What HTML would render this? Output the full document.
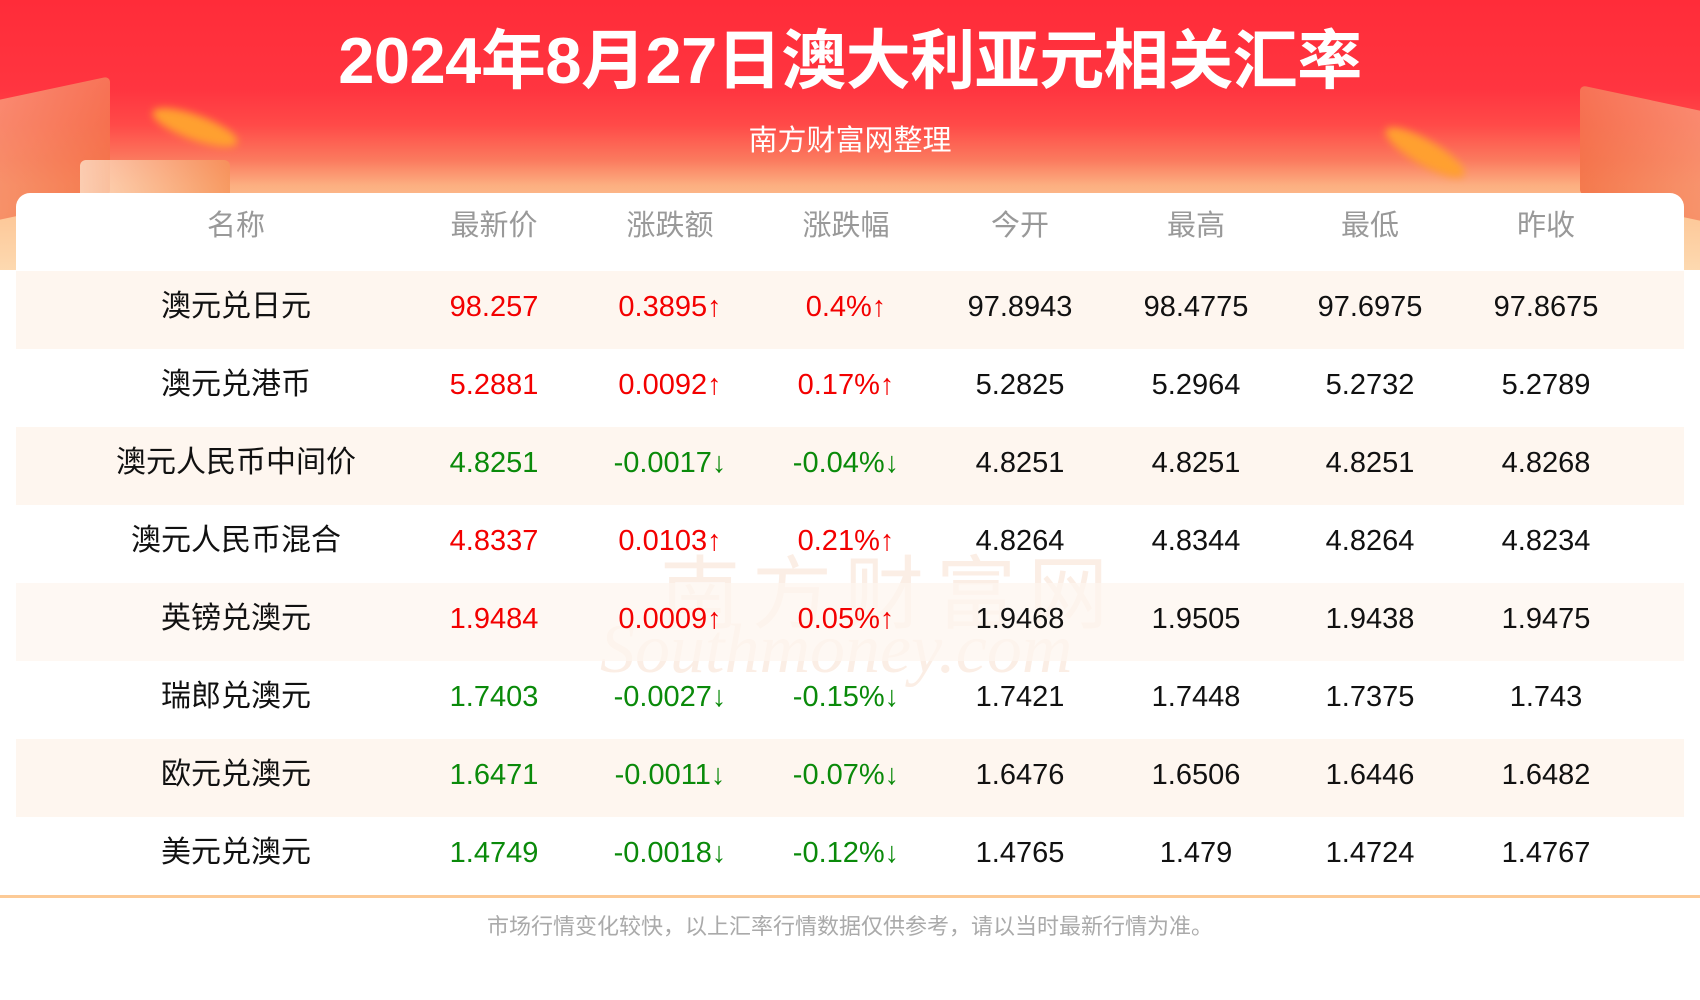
<!DOCTYPE html>
<html><head><meta charset="utf-8"><style>
*{margin:0;padding:0;box-sizing:border-box}
body{width:1700px;height:1000px;background:#fff;position:relative;overflow:hidden;font-family:"Liberation Sans","Noto Sans CJK SC",sans-serif}
.bg{position:absolute;left:0;top:0;width:1700px;height:270px;background:linear-gradient(180deg,#ff2c39 0px,#ff3540 90px,#ff4a48 125px,#fb7a5e 160px,#fcae80 185px,#fdc696 210px,#fdd9b0 270px)}
.deco{position:absolute;border-radius:6px}
.title{position:absolute;left:0;width:1700px;top:21px;text-align:center;color:#fff;font-weight:bold;font-size:65px;line-height:80px;letter-spacing:-0.5px}
.sub{position:absolute;left:0;width:1700px;top:123px;text-align:center;color:#fff;font-size:29px;line-height:36px}
.card{position:absolute;left:16px;top:193px;width:1668px;height:705px;background:#fff;border-radius:14px 14px 0 0}
.row{position:absolute;left:16px;width:1668px;height:78px}
.band{background:#fef6ef}
.cell{position:absolute;top:-3px;height:78px;line-height:78px;text-align:center;width:260px;margin-left:-130px;font-size:29px;color:#111;white-space:nowrap}
.nm{font-size:30px}
.hd .cell{color:#999;font-size:29px}
.r{color:#f30000}.g{color:#0a8a0a}
.line{position:absolute;left:0;top:895px;width:1700px;height:3px;background:#fcca96}
.foot{position:absolute;left:0;width:1700px;top:913px;text-align:center;color:#aaa;font-size:22px;line-height:28px}
.wm{position:absolute;color:#fbeadf;font-size:80px;left:660px;top:530px;letter-spacing:12px;opacity:.8}
.wm2{position:absolute;color:#fbeadf;font-size:70px;font-style:italic;font-family:"Liberation Serif",serif;left:600px;top:610px;opacity:.8}
</style></head><body>
<div class="bg"></div>
<div class="deco" style="left:-20px;top:90px;width:130px;height:120px;background:linear-gradient(135deg,#f9a080,#f26a3e);transform:skewY(-12deg);opacity:.8"></div>
<div class="deco" style="left:80px;top:160px;width:150px;height:50px;background:linear-gradient(90deg,#fde0c8,#f6945a);opacity:.8"></div>
<div class="deco" style="left:150px;top:115px;width:90px;height:25px;background:#ffa030;border-radius:50%;filter:blur(4px);transform:rotate(20deg)"></div>
<div class="deco" style="left:1580px;top:100px;width:140px;height:110px;background:linear-gradient(225deg,#f9a080,#f26a3e);transform:skewY(12deg);opacity:.8"></div>
<div class="deco" style="left:1380px;top:140px;width:90px;height:25px;background:#ffa030;border-radius:50%;filter:blur(4px);transform:rotate(30deg)"></div>
<div class="title">2024年8月27日澳大利亚元相关汇率</div>
<div class="sub">南方财富网整理</div>
<div class="card"></div>
<div class="wm">南方财富网</div>
<div class="wm2">Southmoney.com</div>

<div class="row hd" style="top:190px">
<div class="cell" style="left:220px">名称</div><div class="cell" style="left:478px">最新价</div><div class="cell" style="left:654px">涨跌额</div><div class="cell" style="left:830px">涨跌幅</div><div class="cell" style="left:1004px">今开</div><div class="cell" style="left:1180px">最高</div><div class="cell" style="left:1354px">最低</div><div class="cell" style="left:1530px">昨收</div>
</div>

<div class="row band" style="top:271px">
<div class="cell nm" style="left:220px">澳元兑日元</div><div class="cell r" style="left:478px">98.257</div><div class="cell r" style="left:654px">0.3895↑</div><div class="cell r" style="left:830px">0.4%↑</div><div class="cell" style="left:1004px">97.8943</div><div class="cell" style="left:1180px">98.4775</div><div class="cell" style="left:1354px">97.6975</div><div class="cell" style="left:1530px">97.8675</div>
</div>
<div class="row" style="top:349px">
<div class="cell nm" style="left:220px">澳元兑港币</div><div class="cell r" style="left:478px">5.2881</div><div class="cell r" style="left:654px">0.0092↑</div><div class="cell r" style="left:830px">0.17%↑</div><div class="cell" style="left:1004px">5.2825</div><div class="cell" style="left:1180px">5.2964</div><div class="cell" style="left:1354px">5.2732</div><div class="cell" style="left:1530px">5.2789</div>
</div>
<div class="row band" style="top:427px">
<div class="cell nm" style="left:220px">澳元人民币中间价</div><div class="cell g" style="left:478px">4.8251</div><div class="cell g" style="left:654px">-0.0017↓</div><div class="cell g" style="left:830px">-0.04%↓</div><div class="cell" style="left:1004px">4.8251</div><div class="cell" style="left:1180px">4.8251</div><div class="cell" style="left:1354px">4.8251</div><div class="cell" style="left:1530px">4.8268</div>
</div>
<div class="row" style="top:505px">
<div class="cell nm" style="left:220px">澳元人民币混合</div><div class="cell r" style="left:478px">4.8337</div><div class="cell r" style="left:654px">0.0103↑</div><div class="cell r" style="left:830px">0.21%↑</div><div class="cell" style="left:1004px">4.8264</div><div class="cell" style="left:1180px">4.8344</div><div class="cell" style="left:1354px">4.8264</div><div class="cell" style="left:1530px">4.8234</div>
</div>
<div class="row band" style="top:583px;background:rgba(254,246,239,.75)">
<div class="cell nm" style="left:220px">英镑兑澳元</div><div class="cell r" style="left:478px">1.9484</div><div class="cell r" style="left:654px">0.0009↑</div><div class="cell r" style="left:830px">0.05%↑</div><div class="cell" style="left:1004px">1.9468</div><div class="cell" style="left:1180px">1.9505</div><div class="cell" style="left:1354px">1.9438</div><div class="cell" style="left:1530px">1.9475</div>
</div>
<div class="row" style="top:661px">
<div class="cell nm" style="left:220px">瑞郎兑澳元</div><div class="cell g" style="left:478px">1.7403</div><div class="cell g" style="left:654px">-0.0027↓</div><div class="cell g" style="left:830px">-0.15%↓</div><div class="cell" style="left:1004px">1.7421</div><div class="cell" style="left:1180px">1.7448</div><div class="cell" style="left:1354px">1.7375</div><div class="cell" style="left:1530px">1.743</div>
</div>
<div class="row band" style="top:739px">
<div class="cell nm" style="left:220px">欧元兑澳元</div><div class="cell g" style="left:478px">1.6471</div><div class="cell g" style="left:654px">-0.0011↓</div><div class="cell g" style="left:830px">-0.07%↓</div><div class="cell" style="left:1004px">1.6476</div><div class="cell" style="left:1180px">1.6506</div><div class="cell" style="left:1354px">1.6446</div><div class="cell" style="left:1530px">1.6482</div>
</div>
<div class="row" style="top:817px">
<div class="cell nm" style="left:220px">美元兑澳元</div><div class="cell g" style="left:478px">1.4749</div><div class="cell g" style="left:654px">-0.0018↓</div><div class="cell g" style="left:830px">-0.12%↓</div><div class="cell" style="left:1004px">1.4765</div><div class="cell" style="left:1180px">1.479</div><div class="cell" style="left:1354px">1.4724</div><div class="cell" style="left:1530px">1.4767</div>
</div>
<div class="line"></div>
<div class="foot">市场行情变化较快，以上汇率行情数据仅供参考，请以当时最新行情为准。</div>
</body></html>
